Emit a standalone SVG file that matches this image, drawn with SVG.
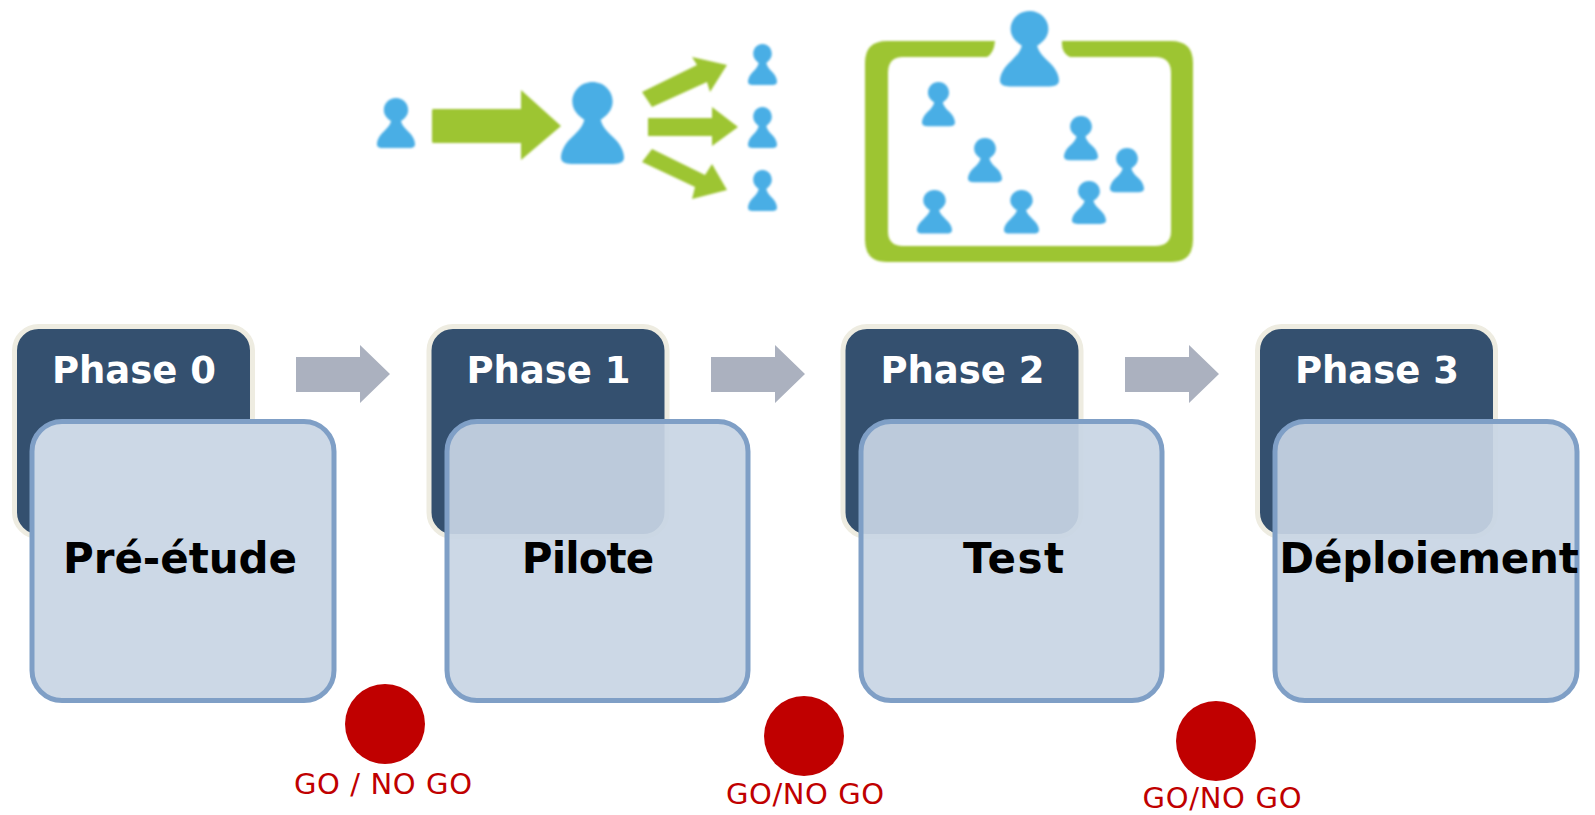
<svg xmlns="http://www.w3.org/2000/svg" width="1595" height="815" viewBox="0 0 1595 815">
<style>
.g{fill:#9dc531}
.p{fill:#4aaee5}
.soft{filter:url(#soft)}
.dark{fill:#34506f;stroke:#eeece1;stroke-width:5}
.light{fill:#c8d5e4;fill-opacity:.92;stroke:#7f9fc6;stroke-width:5}
.ph{font:bold 37px "DejaVu Sans",Verdana,sans-serif;fill:#fff;text-anchor:middle}
.tt{font:bold 42px "DejaVu Sans",Verdana,sans-serif;fill:#000;text-anchor:middle}
.go{font:29px "DejaVu Sans",Verdana,sans-serif;fill:#c00000;text-anchor:middle}
.dot{fill:#c00000}
.ar{fill:#abb1bf}
</style>
<defs>
<filter id="soft" x="-5%" y="-5%" width="110%" height="110%"><feGaussianBlur stdDeviation="0.8"/></filter>
<path id="pawn" d="M50 0C68 0 82 14 82 31C82 45 72 54 63 60C66 72 74 79 82 87C92 96 100 108 100 120C100 127 94 130 84 130L16 130C6 130 0 127 0 120C0 108 8 96 18 87C26 79 34 72 37 60C28 54 18 45 18 31C18 14 32 0 50 0Z"/>
</defs>
<rect width="1595" height="815" fill="#fff"/>
<g id="icon-delegation" class="soft">
<g class="p">
<use href="#pawn" transform="translate(377 98) scale(.38 .385)"/>
<use href="#pawn" transform="translate(561 82) scale(.63)"/>
<use href="#pawn" transform="translate(748 44) scale(.29 .315)"/>
<use href="#pawn" transform="translate(748 107) scale(.29 .315)"/>
<use href="#pawn" transform="translate(748 170) scale(.29 .315)"/>
</g>
<path class="g" d="M433 109H521V90L561 126L521 160V143H433Q432 143 432 141V111Q432 109 433 109Z"/>
<path class="g" d="M648 118H712V107L738 127L712 146V136H648Z"/>
<path class="g" d="M642 92L697 65L692 57L727 65L710 92L707 82L652 107Z"/>
<path class="g" d="M642 162L652 149L705 175L712 164L727 190L692 199L695 187Z"/>
</g>
<g id="icon-team" class="soft">
<path class="g" fill-rule="evenodd" d="M995 41H887Q865 41 865 63V240Q865 262 887 262H1171Q1193 262 1193 240V63Q1193 41 1171 41H1062Q1061 53 1070 57H1155Q1171 57 1171 73V231Q1171 246 1155 246H903Q888 246 888 231V73Q888 57 903 57H987Q994 53 995 41Z"/>
<g class="p">
<use href="#pawn" transform="translate(1000 11) scale(.59 .58)"/>
<use href="#pawn" transform="translate(922 82) scale(.33 .34)"/>
<use href="#pawn" transform="translate(968 138) scale(.34)"/>
<use href="#pawn" transform="translate(1064 116) scale(.34)"/>
<use href="#pawn" transform="translate(1110 148) scale(.34)"/>
<use href="#pawn" transform="translate(1072 181) scale(.34 .33)"/>
<use href="#pawn" transform="translate(1004 190) scale(.35 .335)"/>
<use href="#pawn" transform="translate(917 190) scale(.35 .335)"/>
</g>
</g>
<g id="connectors">
<path class="ar" d="M296 357H360V345L390 374L360 403V392H296Z"/>
<path class="ar" d="M711 357H775V345L805 374L775 403V392H711Z"/>
<path class="ar" d="M1125 357H1189V345L1219 374L1189 403V392H1125Z"/>
</g>
<g id="phase-0">
<rect class="dark" x="14.500" y="326.500" width="238" height="210" rx="24"/>
<text class="ph" x="134" y="383">Phase 0</text>
<rect x="32" y="421.500" width="302" height="279" rx="30" fill="#ccd8e6" stroke="#7f9fc6" stroke-width="5"/>
<text class="tt" x="180" y="573" textLength="234" lengthAdjust="spacing">Pré-étude</text>
</g>
<g id="phase-1">
<rect class="dark" x="429" y="326.500" width="238" height="210" rx="24"/>
<text class="ph" x="548.500" y="383">Phase 1</text>
<rect class="light" x="447" y="421.500" width="301" height="279" rx="30"/>
<text class="tt" x="588" y="573" textLength="132.500" lengthAdjust="spacing">Pilote</text>
</g>
<g id="phase-2">
<rect class="dark" x="843" y="326.500" width="238" height="210" rx="24"/>
<text class="ph" x="962.500" y="383">Phase 2</text>
<rect class="light" x="861" y="421.500" width="301" height="279" rx="30"/>
<text class="tt" x="1013.500" y="573" textLength="101" lengthAdjust="spacing">Test</text>
</g>
<g id="phase-3">
<rect class="dark" x="1257.500" y="326.500" width="238" height="210" rx="24"/>
<text class="ph" x="1377" y="383">Phase 3</text>
<rect class="light" x="1275" y="421.500" width="302" height="279" rx="30"/>
<text class="tt" x="1429" y="573" textLength="299.500" lengthAdjust="spacing">Déploiement</text>
</g>
<g id="gate-0">
<circle class="dot" cx="385" cy="724" r="40"/>
<text class="go" x="383" y="794" textLength="178" lengthAdjust="spacing">GO / NO GO</text>
</g>
<g id="gate-1">
<circle class="dot" cx="804" cy="736" r="40"/>
<text class="go" x="805" y="804" textLength="158" lengthAdjust="spacing">GO/NO GO</text>
</g>
<g id="gate-2">
<circle class="dot" cx="1216" cy="741" r="40"/>
<text class="go" x="1222" y="808" textLength="159" lengthAdjust="spacing">GO/NO GO</text>
</g>
</svg>
